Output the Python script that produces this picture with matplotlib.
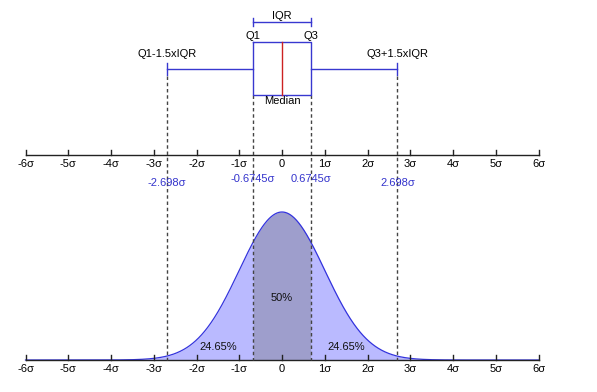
import numpy as np
import matplotlib.pyplot as plt

# boxplot statistics of N(0, 1) in units of sigma
q1, median, q3 = -0.6745, 0.0, 0.6745
whisker_lo, whisker_hi = -2.698, 2.698
sigma_ticks = list(range(-6, 7))
sigma_labels = ['0' if t == 0 else '{}\u03c3'.format(t) for t in sigma_ticks]
marker_values = [whisker_lo, q1, q3, whisker_hi]
marker_labels = ['-2.698\u03c3', '-0.6745\u03c3', '0.6745\u03c3', '2.698\u03c3']
area_labels = ['24.65%', '50%', '24.65%']
area_x = [-1.5, 0.0, 1.5]

plt.rcParams['font.family'] = ['Liberation Sans', 'DejaVu Sans']

blue = '#3333dd'
fig = plt.figure(figsize=(5.97, 3.92), dpi=100)
ax = fig.add_axes([0, 0, 1, 1])
px = 42.75  # pixels per sigma
ax.set_xlim(-6 - 25.5 / px, 6 + (597 - 538.5) / px)
ax.set_ylim(392, 0)  # vertical in pixel rows
ax.axis('off')

axis_top, axis_bot = 155, 360
pdf_scale = 148 / 0.39894

# normal pdf
x = np.linspace(-6, 6, 1201)
pdf = np.exp(-x ** 2 / 2) / np.sqrt(2 * np.pi)
y = axis_bot - pdf_scale * pdf
ax.fill_between(x, axis_bot, y, where=(np.abs(x) <= 3.3), color='#babaff', lw=0)
mid = (x >= q1) & (x <= q3)
ax.fill_between(x[mid], axis_bot, y[mid], color='#9e9ecc', lw=0)
ax.plot(x, y, color=blue, lw=0.9)

# sigma axes
for ay in (axis_top, axis_bot):
    ax.plot([-6, 6], [ay, ay], color='#222222', lw=1)
    for t, lab in zip(sigma_ticks, sigma_labels):
        ax.plot([t, t], [ay - 5, ay], color='#222222', lw=1)
        ax.text(t, ay + 4, lab, ha='center', va='top', fontsize=8)

# dashed guides
for v in marker_values:
    start = 76 if abs(v) > 1 else 95
    ax.plot([v, v], [start, axis_bot], color='#444444', lw=1, ls=(0, (2.5, 2)))

for v, lab in zip(marker_values, marker_labels):
    ty = 183 if abs(v) > 1 else 179
    ax.text(v, ty, lab, ha='center', va='center', fontsize=8, color='#3333cc')

for xv, lab in zip(area_x, area_labels):
    ty = 347 if xv != 0 else 298
    ax.text(xv, ty, lab, ha='center', va='center', fontsize=8, color='#111111')

# box plot
box_top, box_bot, whisk_y = 42, 95, 69
bc = '#3838d0'
ax.plot([q1, q3, q3, q1, q1], [box_top, box_top, box_bot, box_bot, box_top], color=bc, lw=1)
ax.plot([median, median], [box_top, box_bot], color='#cc2222', lw=1)
ax.plot([whisker_lo, q1], [whisk_y, whisk_y], color=bc, lw=1)
ax.plot([q3, whisker_hi], [whisk_y, whisk_y], color=bc, lw=1)
for v in (whisker_lo, whisker_hi):
    ax.plot([v, v], [whisk_y - 6, whisk_y + 6], color=bc, lw=1)

# IQR bracket
ax.plot([q1, q3], [22, 22], color=bc, lw=1)
for v in (q1, q3):
    ax.plot([v, v], [18, 26], color=bc, lw=1)
ax.text(median, 16, 'IQR', ha='center', va='center', fontsize=8)
ax.text(q1, 36, 'Q1', ha='center', va='center', fontsize=8)
ax.text(q3, 36, 'Q3', ha='center', va='center', fontsize=8)
ax.text(median, 101, 'Median', ha='center', va='center', fontsize=8)
ax.text(whisker_lo, 54, 'Q1-1.5xIQR', ha='center', va='center', fontsize=8)
ax.text(whisker_hi, 54, 'Q3+1.5xIQR', ha='center', va='center', fontsize=8)

fig.savefig('out.png', dpi=100, facecolor='white')
